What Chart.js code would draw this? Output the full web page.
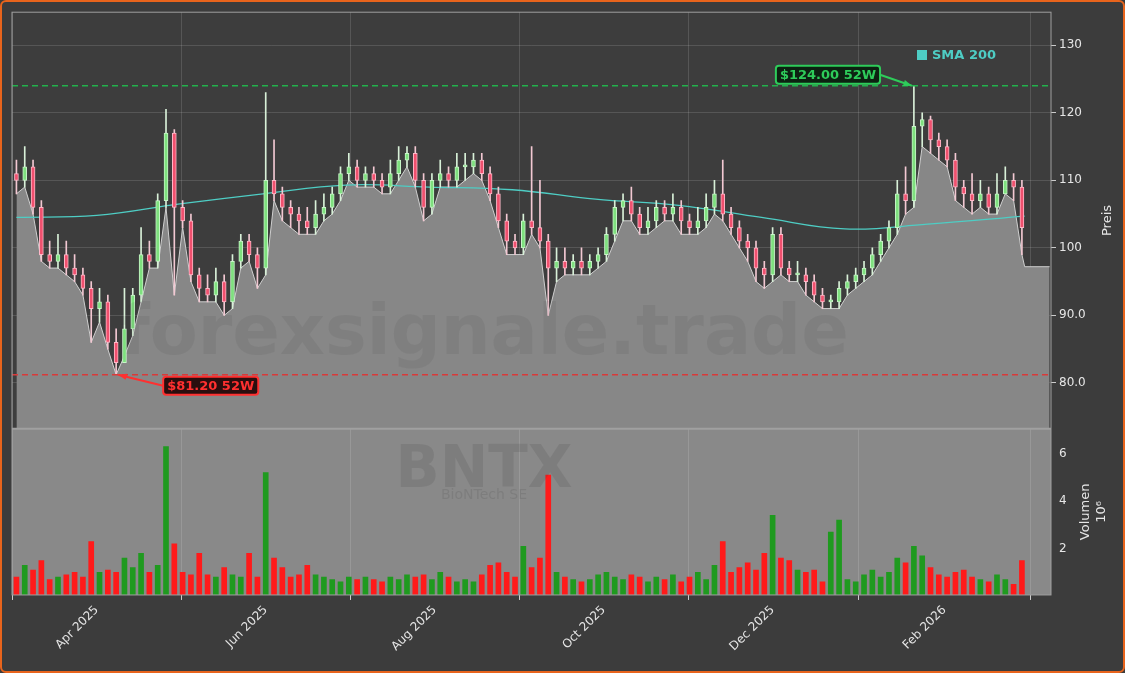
<!DOCTYPE html>
<html>
<head>
<meta charset="utf-8">
<script src="https://cdn.jsdelivr.net/npm/chart.js@4.4.1/dist/chart.umd.min.js"></script>
<style>
  html, body { margin: 0; padding: 0; background: #3c3c3c; }
  #wrap { width: 1121px; height: 669px; border: 2px solid #e8641c; border-radius: 6px; background: #3c3c3c; }
</style>
</head>
<body>
<div id="wrap"><canvas id="chart" width="1121" height="669"></canvas></div>
<script>
// day numbers counted from 1 Jan 2025, one candle every 3 days
const startDay = 61;
const stepDays = 3;
const closes = [110,112,106,99,98,99, 97,96,94,91,92,86, 83,88,93,99,98,107, 117,106,104,96,94,93,
  95,92,98,101,99,97, 110,108,106,105,104,103, 105,106,108,111,112,110, 111,110,109,111,113,114,
  110,106,110,111,110,112, 112,113,111,108,104,101, 100,104,103,101,97,98, 97,98,97,98,99,102,
  106,107,105,103,104,106, 105,106,104,103,104,106, 108,105,103,101,100,97, 96,102,97,96,96,95,
  93,92,92,94,95,96, 97,99,101,103,108,107, 118,119,116,115,113,109, 108,107,108,106,108,110, 109,103];
const opens = [111,110,112,106,99,98, 99,97,96,94,91,92, 86,83,88,93,99,98, 107,117,106,104,96,94,
  93,95,92,98,101,99, 97,110,108,106,105,104, 103,105,106,108,111,112, 110,111,110,109,111,113,
  114,110,106,110,111,110, 112,112,113,111,108,104, 101,100,104,103,101,97, 98,97,98,97,98,99,
  102,106,107,105,103,104, 106,105,106,104,103,104, 106,108,105,103,101,100, 97,96,102,97,96,96,
  95,93,92,92,94,95, 96,97,99,101,103,108, 107,118,119,116,115,113, 109,108,107,108,106,108, 110,109];
const highs = [113,115,113,107,101,102, 101,99,97,95,94,93, 88,94,94,103,101,108, 120.5,117.5,107,105,97,96,
  97,96,99,102,102,100, 123,116,109,107,106,106, 107,108,109,112,114,113, 112,112,111,113,115,115,
  115,111,111,113,112,114, 114,114,114,112,109,105, 102,105,115,110,102,100, 100,99,100,99,100,103,
  107,108,109,106,106,107, 107,108,107,105,106,108, 110,113,106,104,102,101, 98,103,103,98,98,97,
  96,94,93,95,96,97, 98,100,102,104,110,112, 124,120,119.5,117,116,114, 110,111,110,109,111,112, 111,110];
const lows = [108,109,105,98,97,97, 96,95,93,86,89,85, 81.2,84,87,92,97,97, 106,93,103,95,92,92,
  92,90,91,97,98,94, 96,107,104,103,102,102, 102,104,105,107,110,109, 109,109,108,108,110,112,
  109,104,105,109,109,109, 110,111,110,107,103,99, 99,99,102,100,90,95, 96,96,96,96,97,98,
  101,104,104,102,102,103, 104,104,102,102,102,103, 105,104,102,100,98,95, 94,95,96,95,95,93,
  92,91,91,91,93,94, 95,96,98,100,102,105, 106,115,114,113,112,107, 106,105,106,105,105,108, 107,99];
const volumes = [0.8,1.3,1.1,1.5,0.7,0.8, 0.9,1.0,0.8,2.3,1.0,1.1, 1.0,1.6,1.2,1.8,1.0,1.3, 6.3,2.2,1.0,0.9,1.8,0.9,
  0.8,1.2,0.9,0.8,1.8,0.8, 5.2,1.6,1.2,0.8,0.9,1.3, 0.9,0.8,0.7,0.6,0.8,0.7, 0.8,0.7,0.6,0.8,0.7,0.9,
  0.8,0.9,0.7,1.0,0.8,0.6, 0.7,0.6,0.9,1.3,1.4,1.0, 0.8,2.1,1.2,1.6,5.1,1.0, 0.8,0.7,0.6,0.7,0.9,1.0,
  0.8,0.7,0.9,0.8,0.6,0.8, 0.7,0.9,0.6,0.8,1.0,0.7, 1.3,2.3,1.0,1.2,1.4,1.1, 1.8,3.4,1.6,1.5,1.1,1.0,
  1.1,0.6,2.7,3.2,0.7,0.6, 0.9,1.1,0.8,1.0,1.6,1.4, 2.1,1.7,1.2,0.9,0.8,1.0, 1.1,0.8,0.7,0.6,0.9,0.7, 0.5,1.5];
const smaDays = [61,90,120,150,180,210,240,270,300,330,360,390,425];
const smaVals = [104.5,104.8,106.5,108,109.3,109,108.6,107.2,106.3,104.5,102.8,103.5,104.7];
const tailDays = [425,434];
const tailVals = [97.2,97.2];
const tickDays = [90,151,212,273,334,396];
const tickLabels = ["Apr 2025","Jun 2025","Aug 2025","Oct 2025","Dec 2025","Feb 2026"];
const high52 = 124.0, low52 = 81.2;

const days = closes.map((c, i) => startDay + i * stepDays);
const up = closes.map((c, i) => c >= opens[i]);
const areaPts = days.map((d, i) => ({x: d, y: lows[i]})).concat(tailDays.map((d, i) => ({x: d, y: tailVals[i]})));

const overlay = {
  id: "overlay",
  beforeDraw(chart) {
    const {ctx, chartArea: a, scales} = chart;
    const yv = scales.yVol;
    ctx.save();
    ctx.fillStyle = "#3d3d3d";
    ctx.fillRect(a.left, a.top, a.right - a.left, scales.y.bottom - a.top);
    ctx.fillStyle = "#898989";
    ctx.fillRect(a.left, yv.top, a.right - a.left, yv.bottom - yv.top);
    ctx.restore();
  },
  afterDatasetsDraw(chart) {
    const {ctx, chartArea: a, scales} = chart;
    const x = scales.x, y = scales.y, yv = scales.yVol;
    ctx.save();
    // watermarks
    ctx.textAlign = "center";
    ctx.fillStyle = "rgba(60,60,60,0.09)";
    ctx.font = "bold 70px 'DejaVu Sans'";
    ctx.fillText("forexsignale.trade", 482, 352);
    ctx.fillStyle = "rgba(60,60,60,0.14)";
    ctx.font = "bold 58px 'DejaVu Sans'";
    ctx.fillText("BNTX", 482, 485);
    ctx.font = "14px 'DejaVu Sans'";
    ctx.fillText("BioNTech SE", 482, 497);
    // 52 week lines
    ctx.setLineDash([6, 4]);
    ctx.lineWidth = 1.5;
    ctx.strokeStyle = "#22b24c";
    ctx.beginPath(); ctx.moveTo(a.left, y.getPixelForValue(high52)); ctx.lineTo(a.right, y.getPixelForValue(high52)); ctx.stroke();
    ctx.strokeStyle = "#d93a3a";
    ctx.beginPath(); ctx.moveTo(a.left, y.getPixelForValue(low52)); ctx.lineTo(a.right, y.getPixelForValue(low52)); ctx.stroke();
    ctx.setLineDash([]);
    // panel divider and frame
    ctx.strokeStyle = "#a0a0a0"; ctx.lineWidth = 2;
    ctx.beginPath(); ctx.moveTo(a.left, y.bottom); ctx.lineTo(a.right, y.bottom); ctx.stroke();
    ctx.lineWidth = 1;
    ctx.strokeRect(a.left, a.top, a.right - a.left, a.bottom - a.top);

    const iHi = highs.indexOf(high52), iLo = lows.indexOf(low52);
    const label = (txt, px, py, bx, by, col, bg) => {
      ctx.font = "bold 13px 'DejaVu Sans'";
      const w = ctx.measureText(txt).width + 8;
      const sx = bx + (bx < px ? w : 0);
      ctx.strokeStyle = col; ctx.fillStyle = col; ctx.lineWidth = 2;
      ctx.beginPath(); ctx.moveTo(sx, by); ctx.lineTo(px, py); ctx.stroke();
      const ang = Math.atan2(py - by, px - sx);
      ctx.beginPath(); ctx.moveTo(px, py);
      ctx.lineTo(px - 9 * Math.cos(ang - 0.35), py - 9 * Math.sin(ang - 0.35));
      ctx.lineTo(px - 9 * Math.cos(ang + 0.35), py - 9 * Math.sin(ang + 0.35));
      ctx.closePath(); ctx.fill();
      ctx.fillStyle = bg;
      ctx.beginPath(); ctx.roundRect(bx, by - 9, w, 18, 3); ctx.fill(); ctx.stroke();
      ctx.fillStyle = col; ctx.textAlign = "left"; ctx.textBaseline = "middle";
      ctx.fillText(txt, bx + 4, by + 1);
    };
    const hx = x.getPixelForValue(days[iHi]), hy = y.getPixelForValue(high52);
    label("$124.00 52W", hx - 2, hy, hx - 138, hy - 11, "#2ecc5a", "#0d2212");
    const lx = x.getPixelForValue(days[iLo]), ly = y.getPixelForValue(low52);
    label("$81.20 52W", lx + 2, ly, lx + 47, ly + 11, "#ff3030", "#2a0e0e");

    ctx.fillStyle = "#4ecdc4";
    ctx.fillRect(915, 48, 10, 10);
    ctx.font = "bold 13px 'DejaVu Sans'"; ctx.textAlign = "left"; ctx.textBaseline = "middle";
    ctx.fillText("SMA 200", 930, 54);

    // axis titles, reading bottom to top
    ctx.fillStyle = "#e6e6e6"; ctx.font = "13px 'DejaVu Sans'"; ctx.textAlign = "center";
    ctx.translate(1106, (y.top + y.bottom) / 2); ctx.rotate(-Math.PI / 2);
    ctx.fillText("Preis", 0, 0);
    ctx.setTransform(1, 0, 0, 1, 0, 0);
    ctx.translate(1084, (yv.top + yv.bottom) / 2); ctx.rotate(-Math.PI / 2);
    ctx.fillText("Volumen", 0, 0);
    ctx.fillText("10⁶", 0, 16);
    ctx.restore();
  }
};

new Chart(document.getElementById("chart"), {
  data: {
    datasets: [
      { type: "line", label: "area", data: areaPts, yAxisID: "y", borderColor: "#cfcfcf", borderWidth: 1,
        backgroundColor: "#878787", fill: "start", pointRadius: 0, tension: 0, order: 5 },
      { type: "line", label: "SMA 200", data: smaDays.map((d, i) => ({x: d, y: smaVals[i]})), yAxisID: "y",
        borderColor: "#4ecdc4", borderWidth: 1.3, pointRadius: 0, tension: 0.4, fill: false, order: 4 },
      { type: "bar", label: "wick", data: days.map((d, i) => ({x: d, y: [lows[i], highs[i]]})), yAxisID: "y",
        backgroundColor: up.map(u => u ? "#d8f0d8" : "#f2c8d2"), barThickness: 1, grouped: false, order: 3 },
      { type: "bar", label: "body", data: days.map((d, i) => ({x: d, y: [opens[i], closes[i]]})), yAxisID: "y",
        backgroundColor: up.map(u => u ? "#7ee07e" : "#f0506e"), borderColor: up.map(u => u ? "#c8f5c8" : "#ffb8c8"),
        borderWidth: 1, borderSkipped: false, barThickness: 4, minBarLength: 2, grouped: false, order: 2 },
      { type: "bar", label: "vol", data: days.map((d, i) => ({x: d, y: volumes[i]})), yAxisID: "yVol",
        backgroundColor: up.map(u => u ? "#1f9a1f" : "#ff1a1a"), barThickness: 5, grouped: false, order: 1 }
    ]
  },
  options: {
    responsive: false,
    animation: false,
    layout: { padding: { left: 10, top: 10, right: 2, bottom: 14 } },
    plugins: { legend: { display: false }, tooltip: { enabled: false } },
    scales: {
      x: {
        type: "linear", min: 59.4, max: 434.5, offset: false,
        afterBuildTicks: s => { s.ticks = tickDays.map(v => ({value: v})); },
        ticks: { color: "#e6e6e6", font: { size: 12, family: "DejaVu Sans" }, maxRotation: 45, minRotation: 45,
          callback: v => tickLabels[tickDays.indexOf(v)] },
        grid: { color: "rgba(255,255,255,0.13)", tickColor: "#cccccc", tickLength: 5 },
        border: { display: false }
      },
      y: {
        position: "right", stack: "v", stackWeight: 416, offset: false, min: 73.2, max: 134.9,
        afterBuildTicks: s => { s.ticks = [80,90,100,110,120,130].map(v => ({value: v})); },
        afterFit: s => { s.width = 70; },
        ticks: { color: "#e6e6e6", font: { size: 12, family: "DejaVu Sans" }, callback: v => v < 100 ? v.toFixed(1) : String(v) },
        grid: { color: "rgba(255,255,255,0.13)", tickColor: "#cccccc", tickLength: 5 },
        border: { display: false }
      },
      yVol: {
        position: "right", stack: "v", stackWeight: 166, offset: false, min: 0.05, max: 7.05,
        afterBuildTicks: s => { s.ticks = [2,4,6].map(v => ({value: v})); },
        afterFit: s => { s.width = 70; },
        ticks: { color: "#e6e6e6", font: { size: 12, family: "DejaVu Sans" } },
        grid: { display: false, tickColor: "#cccccc", tickLength: 5 },
        border: { display: false }
      }
    }
  },
  plugins: [overlay]
});
</script>
</body>
</html>
